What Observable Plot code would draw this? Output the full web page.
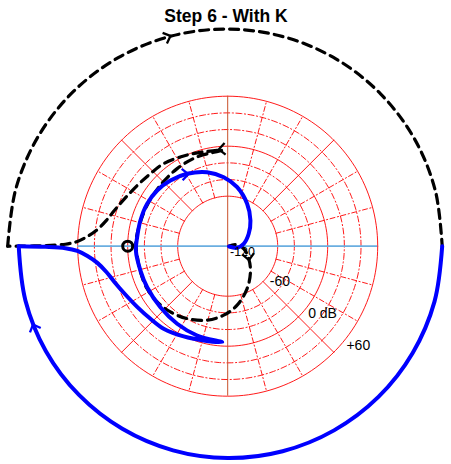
<!DOCTYPE html>
<html><head><meta charset="utf-8">
<script src="https://cdn.jsdelivr.net/npm/d3@7"></script>
<script src="https://cdn.jsdelivr.net/npm/@observablehq/plot@0.6"></script>
<style>body{margin:0;background:#fff}</style>
</head><body><div id="chart"></div>
<script>
const title = "Step 6 - With K";

// Log-polar Nyquist: radius = dB + 120 (-120 dB at the centre)
// Positive-frequency branch (blue): magnitude in dB, phase in degrees
const branchDb = [130.8, 98.8, 74.8, 60.5, 48.7, 37.7, 28.8, 22.6, 16.3, 10.7, 7.2, 5.4, 0.5, -3.2, -4.6,
  -6.7, -8.9, -11.0, -11.5, -11.3, -9.7, -10.8, -10.8, -10.7, -12.1, -15.4, -20.4, -27.8, -37.1, -48.3,
  -64.0, -78.8, -90.7, -100.6, -108.6, -118.3];
const branchPhase = [-180, -179.8, -179.3, -178.2, -176.0, -172.7, -168.0, -162.5, -155.4, -146.0, -136.8, -127.8, -116.0, -104.3, -93.3,
  -108.9, -123.1, -137.8, -153.0, -164.4, -177.3, -185.7, -196.4, -207.7, -218.3, -228.9, -240.7, -254.4, -266.7, -279.1,
  -294.6, -311.5, -329.4, -351.5, -369.7, -372];

// Arc at "infinity" (drawn as a slowly shrinking spiral)
const dashArcPhase = [180, 165, 150, 135, 120, 105, 90, 75, 60, 45, 30, 15, 0];
const dashArcDb = [144.0, 143.4, 142.8, 142.2, 141.6, 141.1, 140.6, 140.1, 139.6, 139.0, 138.5, 137.9, 137.4];
const blueArcPhase = [0, -15, -30, -45, -60, -75, -90, -105, -120, -135, -150, -165, -180];
const blueArcDb = [137.4, 136.9, 136.3, 135.8, 135.2, 134.7, 134.2, 133.6, 133.0, 132.4, 131.9, 131.3, 130.8];

// Direction arrows (position)
const arrowSeries = ["blue", "blue", "dash", "dash", "dash"];
const arrowDb = [131.8, -21.4, 141.6, -3.3, -89.5];
const arrowPhase = [-158.1, 118.6, 105.2, 95.2, -33];

// Critical point -1
const criticalDb = [0];
const criticalPhase = [180];

// Grid
const circleDb = [-60, -40, -20, 0, 20, 40, 60];
const solidCircleDb = [-60, 0, 60];
const radialStep = 15;
const labelDb = [-120, -60, 0, 60];
const labelText = ["-120", "-60", "0 dB", "+60"];

const toXY = (db, ph) => {
  const r = Math.max(0, db + 120), a = ph * Math.PI / 180;
  return {x: r * Math.cos(a), y: r * Math.sin(a)};
};

const branch = branchDb.map((d, i) => toXY(d, branchPhase[i]));
const blueArc = blueArcDb.map((d, i) => toXY(d, blueArcPhase[i]));
const dashArc = dashArcDb.map((d, i) => toXY(d, dashArcPhase[i]));
const mirror = branchDb.map((d, i) => toXY(d, -branchPhase[i])).reverse().concat([dashArc[0]]);
const bluePath = blueArc.slice(0, -1).concat(branch);
const dashPath = mirror.slice(0, -1).concat(dashArc);

// arrows: direction from nearest segment of the path
function arrowFor(p, path) {
  let best = 0, bd = Infinity;
  for (let i = 0; i < path.length - 1; i++) {
    const a = path[i], b = path[i + 1];
    const vx = b.x - a.x, vy = b.y - a.y, L2 = vx * vx + vy * vy || 1;
    let t = ((p.x - a.x) * vx + (p.y - a.y) * vy) / L2; t = Math.max(0, Math.min(1, t));
    const dx = a.x + t * vx - p.x, dy = a.y + t * vy - p.y, dd = dx * dx + dy * dy;
    if (dd < bd) { bd = dd; best = i; }
  }
  const a = path[best], b = path[best + 1];
  return {x: p.x, y: p.y, rot: Math.atan2(-(b.y - a.y), b.x - a.x) * 180 / Math.PI};
}
const arrows = arrowDb.map((d, i) => {
  const p = toXY(d, arrowPhase[i]);
  return {...arrowFor(p, arrowSeries[i] === "blue" ? bluePath : dashPath), s: arrowSeries[i]};
});

const chevron = {
  draw(ctx, size) {
    const L = Math.sqrt(size / Math.PI), c = L * Math.cos(Math.PI / 4.2), s = L * Math.sin(Math.PI / 4.2);
    ctx.moveTo(-c, -s); ctx.lineTo(0, 0); ctx.lineTo(-c, s);
  }
};

// grid geometry
const Rmax = 60 + 120;
const circles = circleDb.flatMap(db => d3.range(0, 361, 2).map(a => ({db, ...toXY(db, a), solid: solidCircleDb.includes(db)})));
const radials = d3.range(radialStep, 360, radialStep).filter(a => a % 90 !== 0)
  .flatMap(a => [{a, ...toXY(-60, a)}, {a, ...toXY(60, a)}].map(d => ({...d, solid: a % 45 === 0})));
const labels = labelDb.map((db, i) => ({...(db === -120 ? toXY(db + 8, -70) : toXY(db + 6, -40)), text: labelText[i], db}));
const crit = criticalDb.map((d, i) => toXY(d, criticalPhase[i]));

const cx = 227.2, cy = 245.7, k = 5 / 6;
const chart = Plot.plot({
  width: 451, height: 464, margin: 0,
  x: {domain: [-cx / k, (451 - cx) / k], axis: null},
  y: {domain: [-(464 - cy) / k, cy / k], axis: null},
  style: {fontFamily: "Liberation Sans, Arial, Helvetica, sans-serif", background: "white"},
  marks: [
    Plot.line(circles.filter(d => !d.solid), {x: "x", y: "y", z: "db", stroke: "#ff0000", strokeWidth: 0.9, strokeDasharray: "6,2.5,1.2,2.5"}),
    Plot.line(circles.filter(d => d.solid), {x: "x", y: "y", z: "db", stroke: "#ff0000", strokeWidth: 0.9}),
    Plot.line(radials.filter(d => !d.solid), {x: "x", y: "y", z: "a", stroke: "#ff0000", strokeWidth: 0.9, strokeDasharray: "5,2.5,1.2,2.5"}),
    Plot.line(radials.filter(d => d.solid), {x: "x", y: "y", z: "a", stroke: "#ff0000", strokeWidth: 0.9}),
    Plot.ruleY([0], {x1: -Rmax, x2: Rmax, stroke: "#6aaee0", strokeWidth: 1.8}),
    Plot.ruleX([0], {y1: -Rmax, y2: Rmax, stroke: "#c8502a", strokeWidth: 1}),
    Plot.line(mirror, {x: "x", y: "y", stroke: "black", strokeWidth: 3.2, strokeDasharray: "9,6", strokeDashoffset: 3, curve: "catmull-rom"}),
    Plot.line(dashArc, {x: "x", y: "y", stroke: "black", strokeWidth: 3.2, strokeDasharray: "9,6", curve: "catmull-rom"}),
    Plot.line(blueArc, {x: "x", y: "y", stroke: "#0000ff", strokeWidth: 4, curve: "catmull-rom"}),
    Plot.line(branch, {x: "x", y: "y", stroke: "#0000ff", strokeWidth: 4, curve: "catmull-rom"}),
    Plot.dot(arrows, {x: "x", y: "y", rotate: "rot", symbol: chevron, r: 8.5, fill: "none",
      stroke: d => d.s === "blue" ? "#0000ff" : "black", strokeWidth: 2.3}),
    Plot.dot(crit, {x: "x", y: "y", r: 5, fill: "none", stroke: "black", strokeWidth: 3}),
    Plot.text(labels, {x: "x", y: "y", text: "text", textAnchor: "start", fill: "black",
      fontSize: d => d.db === -120 ? 12.5 : 14}),
    Plot.text([title], {frameAnchor: "top", lineAnchor: "middle", dy: 15.5, fontSize: 17.5, fontWeight: "bold", fill: "black"})
  ]
});
document.getElementById("chart").append(chart);
</script>
</body></html>
